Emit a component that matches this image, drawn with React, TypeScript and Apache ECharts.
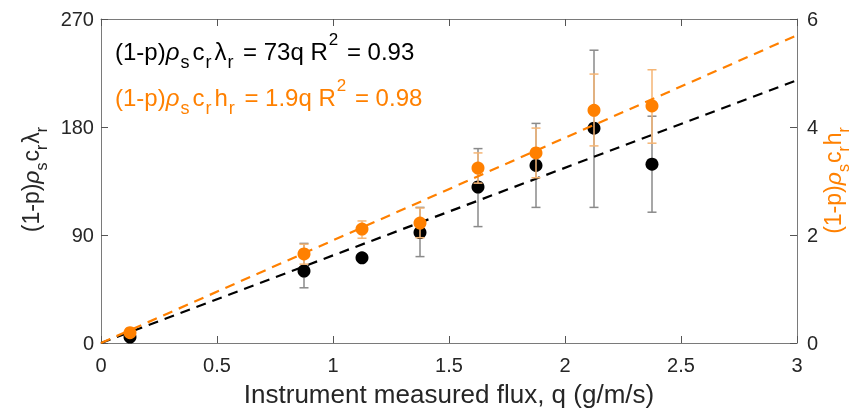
import React, { useEffect, useRef } from 'react';
import * as echarts from 'echarts';

const fluxQ = [0.125, 0.875, 1.125, 1.375, 1.625, 1.875, 2.125, 2.375];
const lambdaVals = [5, 60, 71, 92, 130, 148, 179, 149];
const lambdaLow = [5, 46, 71, 72, 97, 113, 113, 109];
const lambdaHigh = [5, 83, 71, 113, 162, 183, 244, 189];
const hVals = [0.19, 1.65, 2.11, 2.22, 3.24, 3.52, 4.31, 4.39];
const hLow = [0.19, 1.46, 1.94, 1.95, 2.96, 3.06, 3.65, 3.7];
const hHigh = [0.19, 1.83, 2.26, 2.5, 3.52, 3.98, 4.98, 5.06];
const lambdaSlope = 73;
const hSlope = 1.9;
const fitRange = [0, 3];
const xAxisName = 'Instrument measured flux, q (g/m/s)';

const FONT = "'Liberation Sans', Arial, Helvetica, sans-serif";
const BLACK = '#000000';
const ORANGE = '#ff8000';

const errRender = (color: string, cap: number) => (params: any, api: any) => {
  const x = api.value(0);
  const lo = api.coord([x, api.value(1)]);
  const hi = api.coord([x, api.value(2)]);
  const style = { stroke: color, lineWidth: 1.5 };
  if (Math.abs(lo[1] - hi[1]) < 0.5) return { type: 'group', children: [] };
  return {
    type: 'group',
    children: [
      { type: 'line', shape: { x1: lo[0], y1: lo[1], x2: hi[0], y2: hi[1] }, style },
      { type: 'line', shape: { x1: lo[0] - cap, y1: lo[1], x2: lo[0] + cap, y2: lo[1] }, style },
      { type: 'line', shape: { x1: hi[0] - cap, y1: hi[1], x2: hi[0] + cap, y2: hi[1] }, style },
    ],
  };
};

const richFor = (color: string, subPad: number[]) => ({
  m: { fontSize: 24, lineHeight: 40, fontFamily: FONT, fill: color, verticalAlign: 'middle' },
  g: { fontSize: 24, lineHeight: 40, fontFamily: FONT, fill: color, fontStyle: 'italic', verticalAlign: 'middle' },
  s: { fontSize: 18, lineHeight: 18, fontFamily: FONT, fill: color, verticalAlign: 'bottom', padding: subPad },
  p: { fontSize: 17, lineHeight: 28, fontFamily: FONT, fill: color, verticalAlign: 'top', padding: [0, 2, 0, 1] },
});

const axisRich = (color: string) => ({
  m: { fontSize: 23, lineHeight: 36, fontFamily: FONT, fill: color, verticalAlign: 'middle' },
  g: { fontSize: 23, lineHeight: 36, fontFamily: FONT, fill: color, fontStyle: 'italic', verticalAlign: 'middle' },
  s: { fontSize: 16, lineHeight: 16, fontFamily: FONT, fill: color, verticalAlign: 'bottom', padding: [0, 1, 0, 0] },
});

export default function App() {
  const ref = useRef<HTMLDivElement>(null);
  useEffect(() => {
    if (!ref.current) return;
    const chart = echarts.init(ref.current, undefined, { renderer: 'svg' });
    const axisLineStyle = { color: '#7a7a7a', width: 1 };
    const tickStyle = { color: '#555555', width: 1 };
    const labelStyle = { color: '#262626', fontSize: 20, fontFamily: FONT };
    const option: any = {
      animation: false,
      grid: { left: 101, right: 64, top: 19, bottom: 69, containLabel: false },
      xAxis: [
        {
          type: 'value', min: 0, max: 3, interval: 0.5, position: 'bottom',
          axisLine: { show: true, lineStyle: axisLineStyle },
          axisTick: { show: true, inside: true, length: 7, lineStyle: tickStyle },
          axisLabel: { ...labelStyle, margin: 12 },
          splitLine: { show: false },
          name: xAxisName, nameLocation: 'middle', nameGap: 38,
          nameTextStyle: { color: '#262626', fontSize: 26, fontFamily: FONT },
        },
        {
          type: 'value', min: 0, max: 3, interval: 0.5, position: 'top',
          axisLine: { show: true, onZero: false, lineStyle: axisLineStyle },
          axisTick: { show: true, inside: true, length: 7, lineStyle: tickStyle },
          axisLabel: { show: false },
          splitLine: { show: false },
        },
      ],
      yAxis: [
        {
          type: 'value', min: 0, max: 270, interval: 90, position: 'left',
          axisLine: { show: true, onZero: false, lineStyle: axisLineStyle },
          axisTick: { show: true, inside: true, length: 7, lineStyle: tickStyle },
          axisLabel: { ...labelStyle, margin: 7 },
          splitLine: { show: false },
        },
        {
          type: 'value', min: 0, max: 6, interval: 2, position: 'right',
          axisLine: { show: true, onZero: false, lineStyle: axisLineStyle },
          axisTick: { show: true, inside: true, length: 7, lineStyle: tickStyle },
          axisLabel: { ...labelStyle, margin: 10 },
          splitLine: { show: false },
        },
      ],
      series: [
        {
          type: 'custom', xAxisIndex: 0, yAxisIndex: 0,
          renderItem: errRender('#8a8a8a', 4.5),
          encode: { x: 0, y: [1, 2] },
          data: fluxQ.map((q, i) => [q, lambdaLow[i], lambdaHigh[i]]),
          z: 2,
        },
        {
          type: 'scatter', xAxisIndex: 0, yAxisIndex: 0, symbol: 'circle', symbolSize: 13,
          itemStyle: { color: BLACK, opacity: 1 },
          data: fluxQ.map((q, i) => [q, lambdaVals[i]]),
          z: 3,
        },
        {
          type: 'line', xAxisIndex: 0, yAxisIndex: 0, showSymbol: false, symbol: 'none',
          lineStyle: { color: BLACK, width: 2.2, type: [10, 7] },
          data: fitRange.map((q) => [q, lambdaSlope * q]),
          z: 4,
        },
        {
          type: 'custom', xAxisIndex: 0, yAxisIndex: 1,
          renderItem: errRender('#f5b574', 4.5),
          encode: { x: 0, y: [1, 2] },
          data: fluxQ.map((q, i) => [q, hLow[i], hHigh[i]]),
          z: 5,
        },
        {
          type: 'scatter', xAxisIndex: 0, yAxisIndex: 1, symbol: 'circle', symbolSize: 13,
          itemStyle: { color: ORANGE, opacity: 1 },
          data: fluxQ.map((q, i) => [q, hVals[i]]),
          z: 6,
        },
        {
          type: 'line', xAxisIndex: 0, yAxisIndex: 1, showSymbol: false, symbol: 'none',
          lineStyle: { color: ORANGE, width: 2.2, type: [10, 7] },
          data: fitRange.map((q) => [q, hSlope * q]),
          z: 7,
        },
      ],
      graphic: [
        {
          type: 'text', x: 115, y: 51, z: 100,
          style: {
            text: '{m|(1-p)}{g|ρ}{s|s}{m|c}{s|r}{m|λ}{s|r}{m| = 73q R}{p|2}{m| = 0.93}',
            rich: richFor(BLACK, [0, 3, 0, 1]), fill: BLACK, fontSize: 24, fontFamily: FONT,
            align: 'left', verticalAlign: 'middle',
          },
        },
        {
          type: 'text', x: 115, y: 97, z: 100,
          style: {
            text: '{m|(1-p)}{g|ρ}{s|s}{m|c}{s|r}{m|h}{s|r}{m| = 1.9q R}{p|2}{m| = 0.98}',
            rich: richFor(ORANGE, [0, 3, 0, 1]), fill: ORANGE, fontSize: 24, fontFamily: FONT,
            align: 'left', verticalAlign: 'middle',
          },
        },
        {
          type: 'text', x: 31, y: 179, rotation: Math.PI / 2, z: 100,
          style: {
            text: '{m|(1-p)}{g|ρ}{s|s}{m|c}{s|r}{m|λ}{s|r}',
            rich: axisRich('#262626'), fill: '#262626', fontSize: 23, fontFamily: FONT,
            align: 'center', verticalAlign: 'middle',
          },
        },
        {
          type: 'text', x: 833, y: 180, rotation: Math.PI / 2, z: 100,
          style: {
            text: '{m|(1-p)}{g|ρ}{s|s}{m|c}{s|r}{m|h}{s|r}',
            rich: axisRich(ORANGE), fill: ORANGE, fontSize: 23, fontFamily: FONT,
            align: 'center', verticalAlign: 'middle',
          },
        },
      ],
    };
    chart.setOption(option);
    return () => chart.dispose();
  }, []);
  return <div ref={ref} style={{ position: 'fixed', left: 0, top: 0, width: 861, height: 412 }} />;
}
